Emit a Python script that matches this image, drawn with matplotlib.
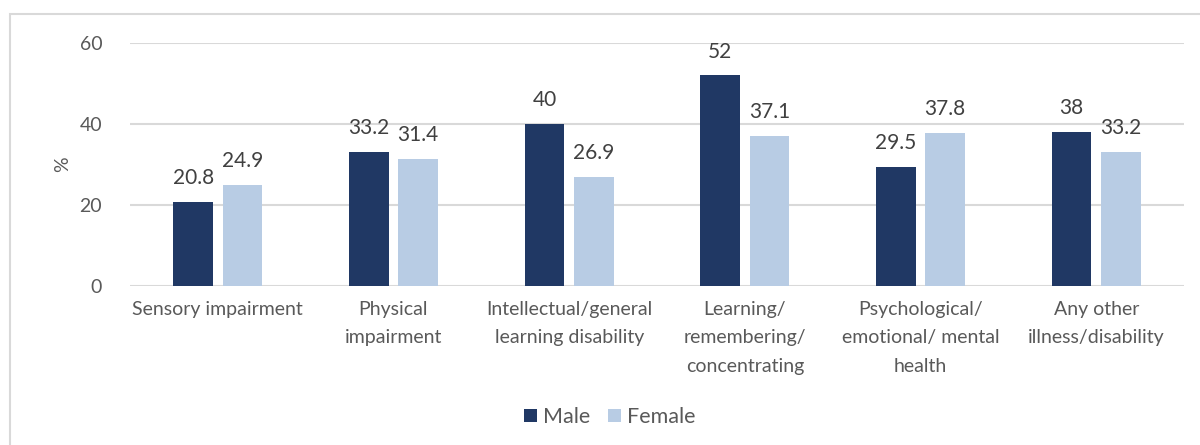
import numpy as np
import matplotlib.pyplot as plt
from matplotlib.patches import Rectangle

# data
categories = ["Sensory impairment", "Physical\nimpairment",
              "Intellectual/general\nlearning disability",
              "Learning/\nremembering/\nconcentrating",
              "Psychological/\nemotional/ mental\nhealth",
              "Any other\nillness/disability"]
male = [20.8, 33.2, 40, 52, 29.5, 38]
female = [24.9, 31.4, 26.9, 37.1, 37.8, 33.2]
male_labels = ["20.8", "33.2", "40", "52", "29.5", "38"]
female_labels = ["24.9", "31.4", "26.9", "37.1", "37.8", "33.2"]
yticks = [0, 20, 40, 60]

plt.rcParams['font.family'] = ['Lato', 'DejaVu Sans']

fig = plt.figure(figsize=(12, 4.45), dpi=100)
ax = fig.add_axes([0.1083, 0.3573, 0.8784, 0.5461])

# outer chart border (left and top visible only, like the crop)
fig.patches.append(Rectangle((10 / 1200, -0.1), 1.2, 1 - 14 / 445 + 0.1,
                             transform=fig.transFigure, fill=False,
                             edgecolor="#D9D9D9", linewidth=1.5))

x = np.arange(len(categories))
w = 0.225
off = 0.14
b1 = ax.bar(x - off, male, w, color="#203864", label="Male", zorder=3)
b2 = ax.bar(x + off, female, w, color="#B8CCE4", label="Female", zorder=3)

for bars, labs in [(b1, male_labels), (b2, female_labels)]:
    for b, t in zip(bars, labs):
        ax.annotate(t, (b.get_x() + b.get_width() / 2, b.get_height()),
                    xytext=(0, 10), textcoords="offset points",
                    ha="center", va="bottom", fontsize=15, color="#404040")

ax.set_xlim(-0.5, len(categories) - 0.5)
ax.set_ylim(0, 60)
ax.set_yticks(yticks)
ax.set_yticklabels([str(v) for v in yticks])
ax.yaxis.grid(True, color="#D9D9D9", linewidth=1.5, zorder=0)
ax.set_axisbelow(True)
ax.set_xticks(x)
ax.set_xticklabels(categories, linespacing=1.8)
ax.tick_params(axis="both", length=0, labelsize=14, colors="#595959")
ax.tick_params(axis="y", pad=20)
ax.tick_params(axis="x", pad=11)
for s in ax.spines.values():
    s.set_visible(False)

ax.set_ylabel("%", fontsize=14, color="#595959", labelpad=6)

fig.legend(loc="center left", bbox_to_anchor=(505 / 1200, 1 - 417 / 445),
           ncol=2, frameon=False, fontsize=15.5, handlelength=0.6,
           handleheight=0.6, handletextpad=0.25, columnspacing=0.85,
           labelcolor="#595959")

fig.savefig("out.png", dpi=100)
